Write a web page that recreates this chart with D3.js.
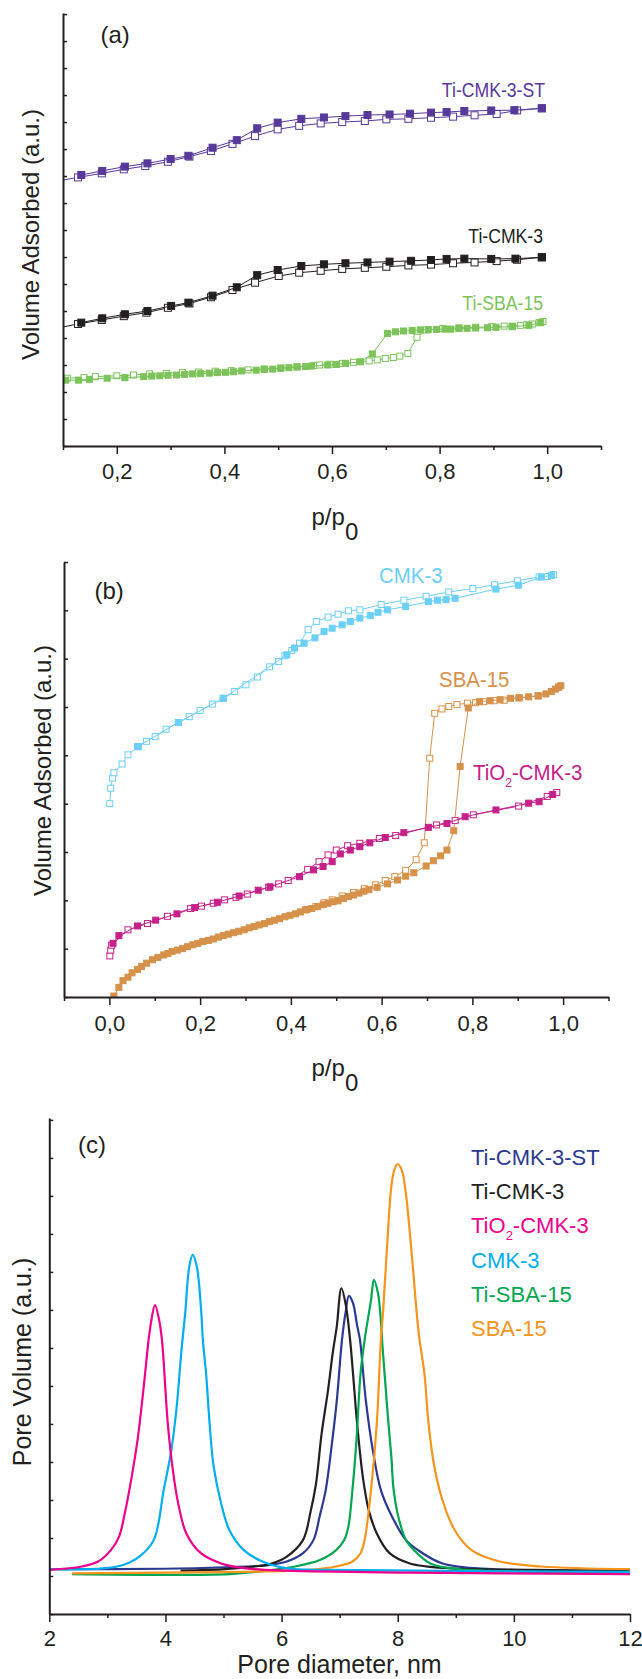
<!DOCTYPE html>
<html>
<head>
<meta charset="utf-8">
<script src="https://cdn.jsdelivr.net/npm/d3@7"></script>
<style>
  html, body { margin: 0; padding: 0; background: #fff; }
  svg { display: block; }
</style>
</head>
<body>
<div id="chart"></div>
<script>
// (a) Ti-containing samples, [p/p0, volume (a.u.)]
const stAds = [[0.134,10.04],[0.173,10.19],[0.215,10.35],[0.257,10.47],[0.300,10.63],[0.333,10.75],[0.378,11.05],[0.423,11.33],[0.461,11.77],[0.499,11.98],[0.543,12.12],[0.585,12.17],[0.625,12.22],[0.666,12.26],[0.707,12.28],[0.745,12.31],[0.784,12.35],[0.813,12.37],[0.846,12.41],[0.896,12.43],[0.939,12.44],[0.990,12.51]];
const stDes = [[0.085,9.80],[0.128,9.95],[0.172,10.10],[0.213,10.25],[0.253,10.37],[0.295,10.53],[0.335,10.72],[0.375,10.93],[0.415,11.19],[0.457,11.48],[0.499,11.73],[0.539,11.86],[0.579,11.95],[0.619,12.00],[0.661,12.04],[0.701,12.10],[0.742,12.12],[0.784,12.16],[0.825,12.20],[0.865,12.25],[0.906,12.30],[0.944,12.43],[0.990,12.51]];
const tiAds = [[0.134,4.57],[0.173,4.73],[0.215,4.88],[0.257,5.00],[0.301,5.19],[0.333,5.31],[0.378,5.57],[0.423,5.88],[0.461,6.33],[0.499,6.52],[0.543,6.67],[0.585,6.73],[0.625,6.77],[0.666,6.80],[0.707,6.83],[0.747,6.86],[0.784,6.89],[0.813,6.93],[0.846,6.94],[0.896,6.93],[0.941,6.94],[0.990,6.99]];
const tiDes = [[0.085,4.35],[0.128,4.52],[0.172,4.67],[0.213,4.81],[0.255,4.94],[0.295,5.12],[0.335,5.28],[0.375,5.51],[0.415,5.78],[0.457,6.05],[0.501,6.30],[0.539,6.42],[0.579,6.49],[0.619,6.56],[0.661,6.60],[0.701,6.64],[0.742,6.69],[0.784,6.72],[0.825,6.77],[0.865,6.80],[0.906,6.85],[0.944,6.90],[0.990,6.99]];
const tiSbaAds = [[0.105,2.44],[0.129,2.44],[0.149,2.47],[0.182,2.51],[0.215,2.53],[0.250,2.57],[0.265,2.59],[0.280,2.60],[0.295,2.62],[0.311,2.63],[0.326,2.65],[0.341,2.67],[0.356,2.68],[0.372,2.70],[0.387,2.72],[0.402,2.73],[0.417,2.75],[0.432,2.78],[0.459,2.81],[0.474,2.84],[0.490,2.85],[0.505,2.88],[0.520,2.90],[0.535,2.93],[0.551,2.94],[0.562,2.96],[0.592,3.00],[0.608,3.02],[0.625,3.06],[0.653,3.12],[0.675,3.41],[0.703,4.17],[0.718,4.23],[0.733,4.26],[0.749,4.28],[0.764,4.30],[0.779,4.31],[0.794,4.32],[0.810,4.33],[0.821,4.33],[0.836,4.35],[0.851,4.36],[0.867,4.37],[0.889,4.38],[0.905,4.40],[0.935,4.42],[0.966,4.47],[0.988,4.57]];
const tiSbaDes = [[0.108,2.51],[0.139,2.54],[0.160,2.57],[0.200,2.60],[0.231,2.63],[0.261,2.67],[0.292,2.69],[0.322,2.72],[0.352,2.74],[0.383,2.77],[0.413,2.79],[0.444,2.82],[0.474,2.85],[0.505,2.89],[0.535,2.93],[0.566,2.98],[0.577,3.00],[0.596,3.03],[0.619,3.06],[0.640,3.10],[0.669,3.15],[0.684,3.19],[0.699,3.24],[0.714,3.28],[0.726,3.33],[0.741,3.43],[0.758,4.03],[0.775,4.30],[0.806,4.35],[0.836,4.38],[0.867,4.40],[0.897,4.42],[0.920,4.44],[0.935,4.44],[0.950,4.47],[0.962,4.49],[0.973,4.52],[0.985,4.57],[0.992,4.61]];

// (b) supports
const cmkAds = [[0.062,5.18],[0.152,5.68],[0.251,6.18],[0.391,7.08],[0.408,7.22],[0.429,7.32],[0.453,7.43],[0.473,7.56],[0.491,7.63],[0.513,7.70],[0.531,7.77],[0.552,7.84],[0.575,7.89],[0.592,7.96],[0.613,8.01],[0.653,8.08],[0.703,8.18],[0.723,8.21],[0.742,8.22],[0.762,8.25],[0.852,8.44],[0.902,8.52],[0.952,8.69],[0.974,8.72]];
const cmkDes = [[0.001,4.00],[0.003,4.32],[0.007,4.53],[0.010,4.64],[0.028,4.82],[0.041,5.01],[0.064,5.18],[0.082,5.29],[0.101,5.39],[0.125,5.54],[0.152,5.68],[0.176,5.80],[0.200,5.93],[0.227,6.06],[0.251,6.18],[0.276,6.32],[0.301,6.46],[0.326,6.62],[0.353,6.83],[0.373,6.94],[0.387,7.06],[0.402,7.17],[0.419,7.32],[0.438,7.60],[0.456,7.77],[0.482,7.86],[0.504,7.92],[0.527,7.99],[0.552,8.01],[0.599,8.12],[0.649,8.21],[0.698,8.29],[0.748,8.38],[0.801,8.45],[0.849,8.53],[0.899,8.61],[0.947,8.69],[0.965,8.70],[0.979,8.74]];
const sbaAds = [[0.010,0.02],[0.021,0.20],[0.030,0.34],[0.041,0.41],[0.050,0.50],[0.062,0.57],[0.071,0.63],[0.082,0.70],[0.095,0.77],[0.107,0.82],[0.120,0.87],[0.129,0.90],[0.138,0.94],[0.150,0.97],[0.161,1.00],[0.172,1.04],[0.184,1.08],[0.195,1.11],[0.206,1.15],[0.218,1.17],[0.229,1.20],[0.240,1.24],[0.251,1.27],[0.262,1.30],[0.274,1.33],[0.285,1.36],[0.297,1.39],[0.308,1.43],[0.319,1.46],[0.330,1.49],[0.342,1.52],[0.353,1.56],[0.364,1.59],[0.375,1.62],[0.387,1.66],[0.398,1.69],[0.410,1.72],[0.421,1.76],[0.432,1.80],[0.446,1.83],[0.459,1.87],[0.471,1.91],[0.482,1.94],[0.493,1.97],[0.504,1.99],[0.516,2.04],[0.527,2.08],[0.538,2.11],[0.550,2.15],[0.561,2.19],[0.572,2.22],[0.590,2.27],[0.613,2.34],[0.635,2.42],[0.653,2.50],[0.671,2.57],[0.698,2.71],[0.714,2.82],[0.730,2.92],[0.744,3.04],[0.759,3.44],[0.773,4.77],[0.791,5.98],[0.816,6.11],[0.839,6.13],[0.861,6.15],[0.884,6.18],[0.903,6.19],[0.924,6.21],[0.945,6.23],[0.962,6.27],[0.974,6.32],[0.983,6.37],[0.990,6.41],[0.995,6.44]];
const sbaDes = [[0.435,1.81],[0.455,1.87],[0.473,1.95],[0.491,2.01],[0.513,2.09],[0.538,2.16],[0.562,2.24],[0.586,2.32],[0.608,2.41],[0.629,2.49],[0.653,2.62],[0.676,2.84],[0.694,3.19],[0.706,4.94],[0.717,5.87],[0.733,5.96],[0.748,6.01],[0.766,6.05],[0.789,6.08],[0.807,6.09],[0.825,6.11],[0.848,6.13],[0.870,6.14],[0.903,6.19],[0.945,6.23],[0.990,6.41]];
const tioAds = [[0.008,1.11],[0.021,1.27],[0.062,1.47],[0.102,1.59],[0.149,1.72],[0.188,1.85],[0.238,1.96],[0.286,2.09],[0.328,2.21],[0.354,2.28],[0.419,2.49],[0.450,2.63],[0.471,2.70],[0.491,2.80],[0.509,2.96],[0.531,3.04],[0.552,3.11],[0.574,3.19],[0.608,3.30],[0.649,3.40],[0.703,3.51],[0.744,3.59],[0.784,3.73],[0.852,3.87],[0.924,4.01],[0.947,4.04],[0.977,4.19]];
const tioDes = [[0.001,0.85],[0.003,0.97],[0.005,1.07],[0.041,1.39],[0.084,1.52],[0.128,1.67],[0.179,1.83],[0.203,1.88],[0.229,1.94],[0.254,2.01],[0.279,2.06],[0.304,2.13],[0.351,2.27],[0.373,2.34],[0.394,2.41],[0.437,2.64],[0.462,2.80],[0.482,2.94],[0.500,3.04],[0.525,3.13],[0.552,3.18],[0.595,3.28],[0.631,3.34],[0.721,3.56],[0.762,3.65],[0.802,3.77],[0.902,3.95],[0.965,4.15],[0.986,4.23]];

// (c) pore size distributions, [diameter nm, pore volume (a.u.)]
const psdSt = [[2.00,1.18],[3.97,1.19],[5.03,1.23],[5.74,1.28],[6.09,1.38],[6.37,1.60],[6.55,1.95],[6.66,2.60],[6.76,3.26],[6.86,4.40],[6.95,5.60],[7.04,7.21],[7.10,7.91],[7.16,8.37],[7.23,8.18],[7.30,7.60],[7.35,7.21],[7.45,5.63],[7.57,4.32],[7.71,3.26],[7.89,2.60],[8.14,1.95],[8.35,1.68],[8.77,1.33],[9.62,1.18],[12.00,1.13]];
const psdTi = [[4.26,1.14],[5.03,1.18],[5.53,1.25],[5.81,1.32],[6.09,1.51],[6.37,1.95],[6.50,2.70],[6.59,3.40],[6.69,4.75],[6.80,5.89],[6.88,6.86],[6.95,7.56],[7.03,8.57],[7.11,8.09],[7.18,7.21],[7.23,6.33],[7.30,5.02],[7.40,3.60],[7.50,2.74],[7.64,2.12],[7.86,1.60],[8.21,1.33],[8.91,1.20],[10.33,1.16],[12.00,1.14]];
const psdTio = [[2.00,1.16],[2.56,1.25],[2.84,1.38],[3.06,1.68],[3.20,2.03],[3.30,2.65],[3.41,3.53],[3.52,4.58],[3.62,5.89],[3.71,7.21],[3.76,7.75],[3.82,8.13],[3.89,7.75],[3.94,7.21],[4.04,5.02],[4.12,3.88],[4.22,2.91],[4.36,2.12],[4.61,1.60],[4.96,1.33],[5.39,1.20],[6.09,1.14],[8.21,1.09],[12.00,1.05]];
const psdCmk = [[2.00,1.18],[2.92,1.20],[3.27,1.29],[3.55,1.51],[3.80,1.95],[3.97,3.26],[4.10,4.30],[4.19,5.40],[4.28,7.00],[4.34,7.91],[4.41,9.14],[4.47,9.45],[4.54,9.14],[4.61,8.09],[4.65,7.10],[4.70,6.33],[4.76,5.02],[4.83,3.88],[4.96,2.91],[5.10,2.21],[5.35,1.68],[5.67,1.38],[6.09,1.20],[6.80,1.16],[12.00,1.11]];
const psdTiSba = [[2.39,1.05],[5.10,1.05],[5.74,1.14],[6.23,1.25],[6.66,1.42],[6.94,1.68],[7.08,1.95],[7.15,2.30],[7.22,3.26],[7.29,4.58],[7.36,6.33],[7.43,7.21],[7.54,8.26],[7.59,8.79],[7.66,8.44],[7.70,7.91],[7.74,7.00],[7.78,6.20],[7.83,5.20],[7.89,4.14],[7.93,3.26],[8.02,2.50],[8.14,1.95],[8.28,1.68],[8.56,1.33],[9.05,1.18],[10.33,1.11],[12.00,1.09]];
const psdSba = [[2.39,1.07],[5.39,1.11],[6.44,1.16],[6.94,1.25],[7.22,1.38],[7.36,1.60],[7.43,1.95],[7.54,3.26],[7.64,5.02],[7.71,7.21],[7.75,8.00],[7.82,9.75],[7.89,11.25],[7.94,11.68],[8.00,11.84],[8.07,11.68],[8.14,11.07],[8.24,9.49],[8.36,7.40],[8.41,6.86],[8.46,6.33],[8.53,5.02],[8.63,3.88],[8.77,3.00],[8.98,2.21],[9.27,1.68],[9.76,1.38],[10.47,1.25],[12.00,1.18]];

const legendNames = ['Ti-CMK-3-ST', 'Ti-CMK-3', 'TiO_2-CMK-3', 'CMK-3', 'Ti-SBA-15', 'SBA-15'];
const legendColors = ['#2b3990', '#231f20', '#ec008c', '#00aeef', '#00a651', '#f7941d'];

const isoMajor = [0.0, 0.2, 0.4, 0.6, 0.8, 1.0];
const isoMinor = [-0.1, 0.1, 0.3, 0.5, 0.7, 0.9, 1.1];
const poreMajor = [2, 4, 6, 8, 10, 12];
const poreMinor = [3, 5, 7, 9, 11];

const FONT = '"Liberation Sans", Arial, Helvetica, sans-serif';
const INK = '#231f20';
const commaFmt = d => d3.format('.1f')(d).replace('.', ',');

const svg = d3.select('#chart').append('svg')
  .attr('width', 642).attr('height', 1679)
  .attr('font-family', FONT);
svg.append('rect').attr('width', 642).attr('height', 1679).attr('fill', '#fff');

function drawAxes(p) {
  const g = svg.append('g').attr('color', INK);
  const y0 = p.y.range()[0];
  g.append('g').attr('transform', `translate(0,${y0})`)
    .call(d3.axisBottom(p.x).tickValues(p.minor).tickSize(4).tickSizeOuter(0).tickFormat(''))
    .call(a => a.select('.domain').remove());
  g.append('g').attr('transform', `translate(0,${y0})`)
    .call(d3.axisBottom(p.x).tickValues(p.major).tickSize(8).tickSizeOuter(0).tickPadding(p.pad).tickFormat(p.fmt));
  g.append('g').attr('transform', `translate(${p.x.range()[0]},0)`)
    .call(d3.axisRight(p.y).tickValues(d3.range(0, p.yTop + 1)).tickSize(4).tickSizeOuter(0).tickFormat(''));
  g.selectAll('g').attr('font-family', null).attr('font-size', null);
  g.selectAll('.domain').attr('stroke-width', 2);
  g.selectAll('.tick line').attr('stroke-width', 1.5);
  g.selectAll('.tick text').attr('font-size', 22).attr('fill', INK);
}

function clipFor(p, id) {
  svg.append('clipPath').attr('id', id).append('rect')
    .attr('x', p.x.range()[0]).attr('y', p.y.range()[1] - 10)
    .attr('width', p.x.range()[1] - p.x.range()[0])
    .attr('height', p.y.range()[0] - p.y.range()[1] + 10);
  return svg.append('g').attr('clip-path', `url(#${id})`);
}

function isotherm(g, p, pts, color, filled, size) {
  g.append('path').datum(pts)
    .attr('d', d3.line().x(d => p.x(d[0])).y(d => p.y(d[1])))
    .attr('fill', 'none').attr('stroke', color).attr('stroke-width', 1);
  g.append('g').selectAll('rect').data(pts).join('rect')
    .attr('x', d => p.x(d[0]) - size / 2)
    .attr('y', d => p.y(d[1]) - size / 2)
    .attr('width', size).attr('height', size)
    .attr('fill', filled ? color : '#fff')
    .attr('stroke', color).attr('stroke-width', 1);
}

// text with optional subscript digits written as "_2"
function label(name, x, y, color, size, sx, anchor) {
  const t = svg.append('text')
    .attr('transform', `translate(${x},${y}) scale(${sx},1)`)
    .attr('text-anchor', anchor || 'start')
    .attr('font-size', size).attr('fill', color);
  name.split(/_(\d)/).forEach((s, i) => {
    const sub = i % 2 === 1;
    t.append('tspan')
      .attr('dy', sub ? 7 : (i > 0 ? -7 : 0))
      .attr('font-size', sub ? Math.round(size * 0.6) : null)
      .text(s);
  });
}

function yTitle(txt, x, y, size) {
  svg.append('text')
    .attr('transform', `translate(${x},${y}) rotate(-90)`)
    .attr('text-anchor', 'middle')
    .attr('font-size', size).attr('fill', INK)
    .text(txt);
}

function ppTitle(x, y) {
  const t = svg.append('text').attr('x', x).attr('y', y).attr('font-size', 24).attr('fill', INK);
  t.append('tspan').text('p/p');
  t.append('tspan').attr('dy', 15).text('0');
}

// ---- (a)
const pa = {
  x: d3.scaleLinear().domain([0.1, 1.1]).range([63, 601]),
  y: d3.scaleLinear().domain([0, 16.04]).range([446, 13]),
  major: isoMajor.slice(1), minor: isoMinor.slice(1), fmt: commaFmt, pad: 9, yTop: 16
};
const ga = clipFor(pa, 'clip-a');
isotherm(ga, pa, stDes, '#57399a', false, 7);
isotherm(ga, pa, stAds, '#57399a', true, 7);
isotherm(ga, pa, tiDes, '#231f20', false, 7);
isotherm(ga, pa, tiAds, '#231f20', true, 7);
isotherm(ga, pa, tiSbaDes, '#7cc35a', false, 6);
isotherm(ga, pa, tiSbaAds, '#7cc35a', true, 6);
drawAxes(pa);
label('Ti-CMK-3-ST', 545, 97, '#57399a', 21, 0.84, 'end');
label('Ti-CMK-3', 543, 243, '#231f20', 21, 0.84, 'end');
label('Ti-SBA-15', 543, 309.5, '#7cc35a', 21, 0.84, 'end');
label('(a)', 100.5, 43, INK, 24, 1);
yTitle('Volume Adsorbed (a.u.)', 39, 234.5, 24);
ppTitle(311.5, 525);

// ---- (b)
const pb = {
  x: d3.scaleLinear().domain([-0.1, 1.1]).range([64, 608.5]),
  y: d3.scaleLinear().domain([0, 9]).range([997, 562]),
  major: isoMajor, minor: isoMinor, fmt: commaFmt, pad: 10, yTop: 9
};
const gb = clipFor(pb, 'clip-b');
isotherm(gb, pb, cmkDes, '#6ccff6', false, 6);
isotherm(gb, pb, cmkAds, '#6ccff6', true, 6);
isotherm(gb, pb, sbaDes, '#d6914a', false, 6);
isotherm(gb, pb, sbaAds, '#d6914a', true, 6);
isotherm(gb, pb, tioDes, '#c6218a', false, 6);
isotherm(gb, pb, tioAds, '#c6218a', true, 6);
drawAxes(pb);
label('CMK-3', 379, 583, '#6ccff6', 22, 0.93);
label('SBA-15', 439, 686.5, '#d6914a', 22, 0.93);
label('TiO_2-CMK-3', 473, 780, '#c6218a', 22, 0.93);
label('(b)', 94.5, 599, INK, 24, 1);
yTitle('Volume Adsorbed (a.u.)', 51, 770.5, 24);
ppTitle(311.5, 1076);

// ---- (c)
const pc = {
  x: d3.scaleLinear().domain([2, 12]).range([49.3, 630]),
  y: d3.scaleLinear().domain([0, 13.05]).range([1614, 1118]),
  major: poreMajor, minor: poreMinor, fmt: d3.format('d'), pad: 8, yTop: 13
};
const gc = clipFor(pc, 'clip-c');
const psdLine = d3.line().x(d => pc.x(d[0])).y(d => pc.y(d[1])).curve(d3.curveCatmullRom.alpha(0.5));
const psdSeries = [psdSt, psdTi, psdTio, psdCmk, psdTiSba, psdSba];
[0, 1, 4, 5, 3, 2].forEach(i => {
  gc.append('path').datum(psdSeries[i])
    .attr('d', psdLine)
    .attr('fill', 'none').attr('stroke', legendColors[i]).attr('stroke-width', 2.2);
});
drawAxes(pc);
legendNames.forEach((n, i) => label(n, 471, 1165 + i * 34.2, legendColors[i], 22, 1));
label('(c)', 78, 1153, INK, 24, 1);
yTitle('Pore Volume (a.u.)', 31, 1362, 25);
svg.append('text')
  .attr('x', 339.5).attr('y', 1673)
  .attr('text-anchor', 'middle')
  .attr('font-size', 25).attr('fill', INK)
  .text('Pore diameter, nm');
</script>
</body>
</html>
